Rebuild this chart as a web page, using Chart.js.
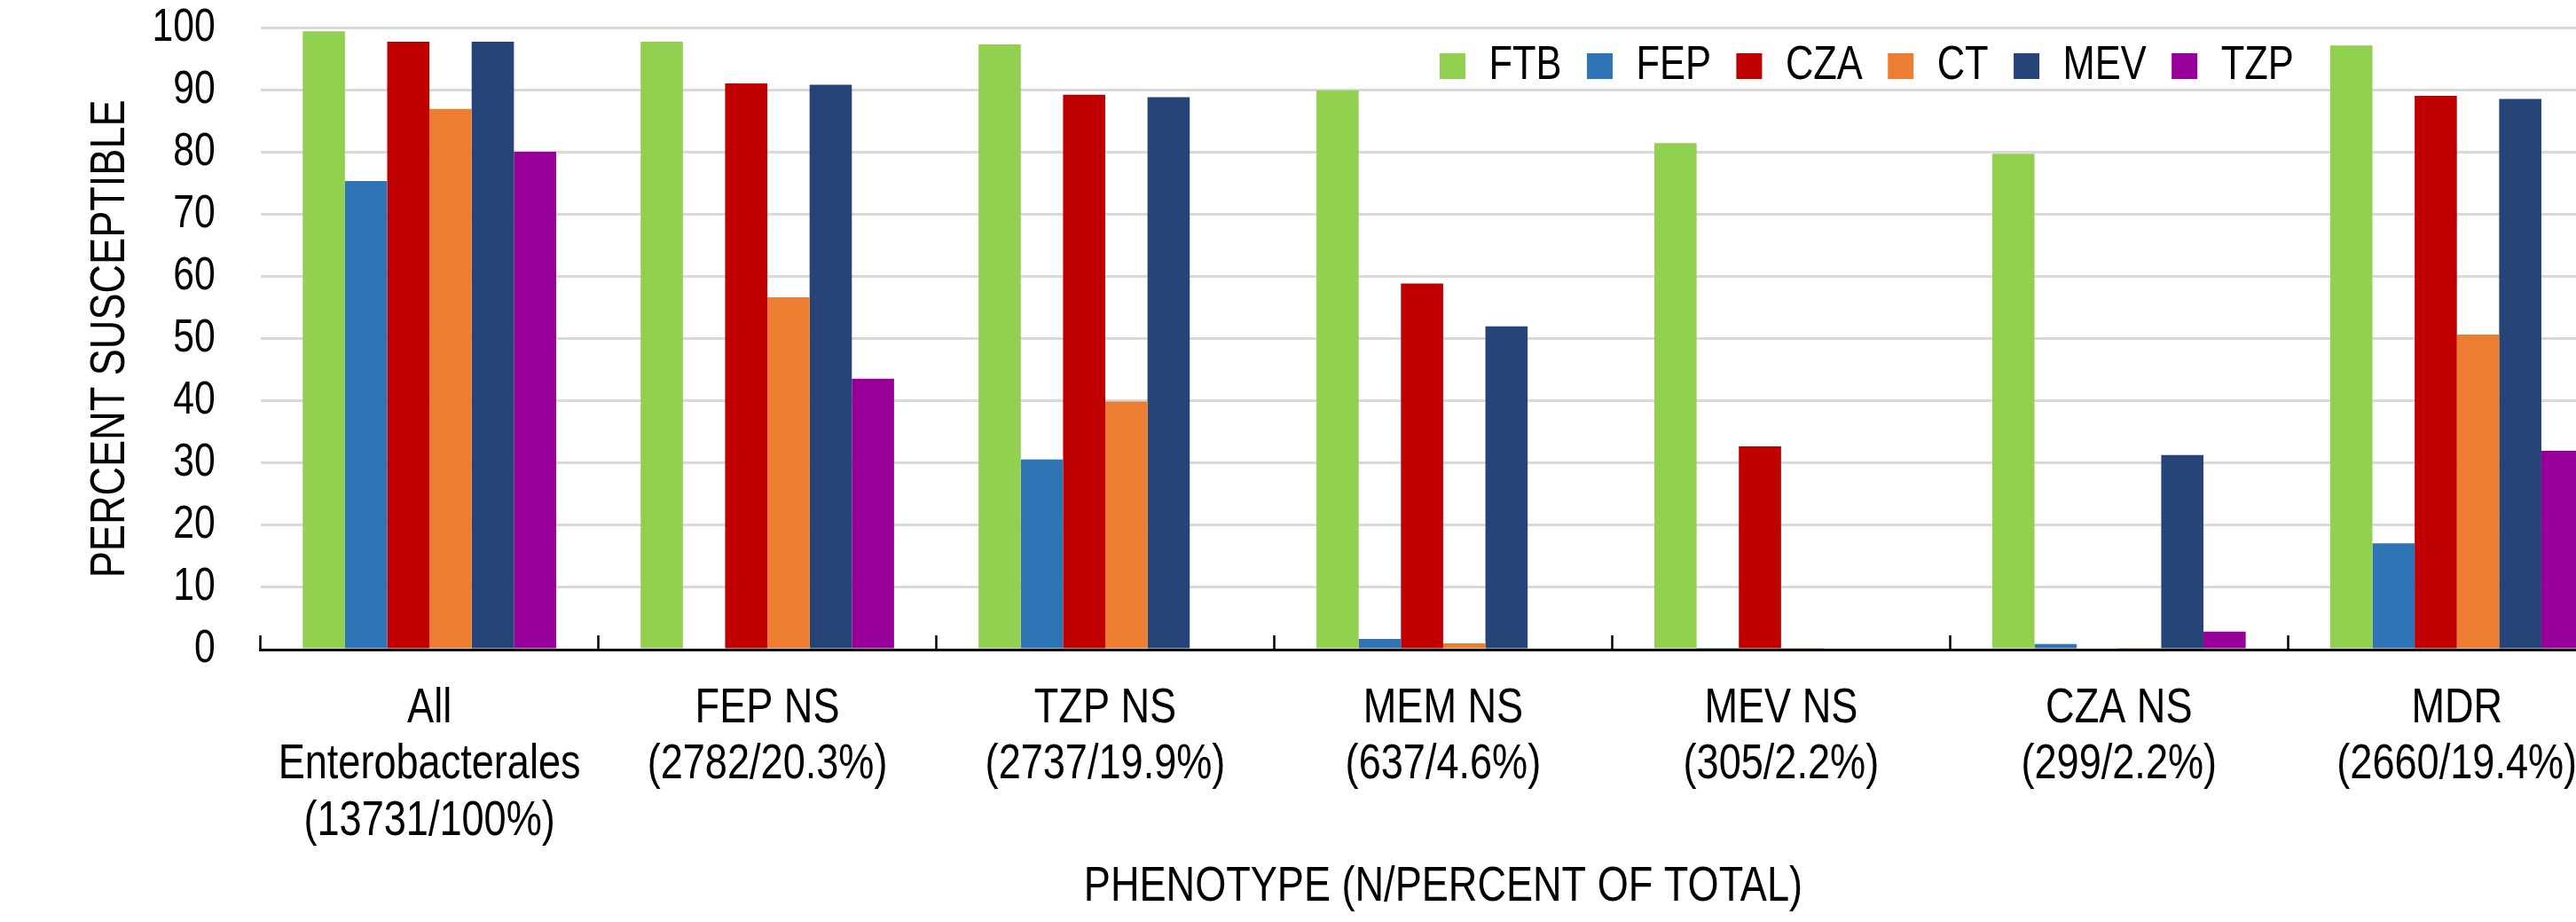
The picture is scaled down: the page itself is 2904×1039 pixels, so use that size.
<!DOCTYPE html>
<html>
<head>
<meta charset="utf-8">
<script src="https://cdn.jsdelivr.net/npm/chart.js@4.4.1/dist/chart.umd.min.js"></script>
<style>
  html, body { margin: 0; padding: 0; background: #ffffff; overflow: hidden; }
  #wrap { position: absolute; left: 0; top: 0; }
  canvas { display: block; }
</style>
</head>
<body>
<div id="wrap"><canvas id="c" width="3000" height="1039"></canvas></div>
<script>
// ---- data ----
const categories = [
  ["All", "Enterobacterales", "(13731/100%)"],
  ["FEP NS", "(2782/20.3%)"],
  ["TZP NS", "(2737/19.9%)"],
  ["MEM NS", "(637/4.6%)"],
  ["MEV NS", "(305/2.2%)"],
  ["CZA NS", "(299/2.2%)"],
  ["MDR", "(2660/19.4%)"]
];
const seriesNames = ["FTB", "FEP", "CZA", "CT", "MEV", "TZP"];
const FTB = [99.5, 97.8, 97.4, 90.0, 81.5, 79.8, 97.2];
const FEP = [75.4, 0, 30.6, 1.7, 0.3, 0.9, 17.1];
const CZA = [97.8, 91.1, 89.3, 58.9, 32.7, 0, 89.1];
const CT  = [87.0, 56.7, 39.9, 1.0, 0.3, 0.3, 50.7];
const MEV = [97.8, 90.9, 88.9, 52.0, 0, 31.3, 88.6];
const TZP = [80.1, 43.6, 0, 0, 0, 2.9, 32.0];
const yTicks = [0, 10, 20, 30, 40, 50, 60, 70, 80, 90, 100];
const yTitle = "PERCENT SUSCEPTIBLE";
const xTitle = "PHENOTYPE (N/PERCENT OF TOTAL)";

const seriesValues = [FTB, FEP, CZA, CT, MEV, TZP];
const seriesColors = ["#92D050", "#2E75B6", "#C00000", "#ED7D31", "#264478", "#990099"];

const FONT = "'Liberation Sans', Arial, sans-serif";
Chart.defaults.font.family = FONT;
Chart.defaults.color = "#000000";

// ---- emulate a narrow (condensed) Arial face: squeeze text along its baseline ----
const NARROW = 0.82;
const canvas = document.getElementById('c');
const ctx2d = canvas.getContext('2d');
const protoFill = CanvasRenderingContext2D.prototype.fillText;
const protoMeasure = CanvasRenderingContext2D.prototype.measureText;
ctx2d.fillText = function (text, x, y, maxWidth) {
  this.save();
  this.translate(x, y);
  this.scale(NARROW, 1);
  if (maxWidth === undefined || maxWidth === null) {
    protoFill.call(this, text, 0, 0);
  } else {
    protoFill.call(this, text, 0, 0, maxWidth / NARROW);
  }
  this.restore();
};
ctx2d.measureText = function (text) {
  const m = protoMeasure.call(this, text);
  return {
    width: m.width * NARROW,
    actualBoundingBoxLeft: m.actualBoundingBoxLeft * NARROW,
    actualBoundingBoxRight: m.actualBoundingBoxRight * NARROW,
    actualBoundingBoxAscent: m.actualBoundingBoxAscent,
    actualBoundingBoxDescent: m.actualBoundingBoxDescent,
    fontBoundingBoxAscent: m.fontBoundingBoxAscent,
    fontBoundingBoxDescent: m.fontBoundingBoxDescent
  };
};

// legend drawn inside the plot area (top right)
const LEGEND_X = 1623;   // left of first legend box
const LEGEND_ROW_Y = 48; // top of legend row
const insideLegend = {
  id: 'insideLegend',
  beforeLayout(chart) {
    const lg = chart.legend;
    if (lg && !lg.__patched) {
      const origFit = lg.fit;
      lg.fit = function () {
        origFit.call(this);
        this.__h = this.height;
        this.height = 0;
      };
      lg.__patched = true;
    }
  },
  afterLayout(chart) {
    const lg = chart.legend;
    if (!lg) return;
    const pad = lg.options.labels.padding;
    lg.height = lg.__h;
    lg.top = LEGEND_ROW_Y - pad;
    lg.bottom = lg.top + lg.__h;
    lg.left = LEGEND_X - pad;
    lg.right = lg.left + (lg.lineWidths ? lg.lineWidths[0] : 1200) + 3 * pad;
    lg.width = lg.right - lg.left;
  }
};

const datasets = seriesNames.map((name, i) => ({
  label: name,
  data: seriesValues[i],
  backgroundColor: seriesColors[i],
  borderWidth: 0,
  barPercentage: 1.0,
  categoryPercentage: 0.75
}));

new Chart(canvas, {
  type: 'bar',
  data: { labels: categories, datasets: datasets },
  plugins: [insideLegend],
  options: {
    responsive: false,
    devicePixelRatio: 1,
    animation: false,
    layout: { autoPadding: false, padding: { left: 0, right: 39.8, top: 31.7, bottom: 0 } },
    plugins: {
      legend: {
        display: true,
        position: 'top',
        align: 'start',
        labels: {
          boxWidth: 29,
          boxHeight: 29,
          padding: 28.4,
          color: '#000000',
          font: { size: 53, family: FONT, lineHeight: 1 }
        }
      },
      title: { display: false },
      tooltip: { enabled: false }
    },
    scales: {
      x: {
        type: 'category',
        offset: true,
        grid: {
          display: true,
          drawOnChartArea: false,
          drawTicks: true,
          tickLength: -16,
          tickColor: '#000000',
          tickWidth: 2.5,
          offset: true
        },
        border: { display: true, color: '#000000', width: 3, z: 1 },
        ticks: {
          autoSkip: false,
          maxRotation: 0,
          minRotation: 0,
          padding: 50.75,
          color: '#000000',
          font: { size: 55, family: FONT, lineHeight: 1.158 }
        },
        title: {
          display: true,
          text: xTitle,
          color: '#000000',
          font: { size: 55, family: FONT, lineHeight: 1 },
          padding: { top: 0, bottom: 11.2 }
        },
        afterFit(scale) {
          scale.height = 307;
          scale.paddingLeft = 0; scale.paddingRight = 0;
          scale.paddingTop = 0; scale.paddingBottom = 0;
        }
      },
      y: {
        type: 'linear',
        min: 0,
        max: 100,
        afterBuildTicks(scale) { scale.ticks = yTicks.map(v => ({ value: v })); },
        grid: {
          display: true,
          drawTicks: false,
          color: '#D9D9D9',
          lineWidth: 3
        },
        border: { display: false },
        ticks: {
          padding: 51,
          color: '#000000',
          font: { size: 52, family: FONT, lineHeight: 1 }
        },
        title: {
          display: true,
          text: yTitle,
          color: '#000000',
          font: { size: 55, family: FONT, lineHeight: 1 },
          padding: { top: 97.8, bottom: 10 }
        },
        afterFit(scale) {
          scale.width = 293.66;
          scale.paddingTop = 0; scale.paddingBottom = 0;
          scale.paddingLeft = 0; scale.paddingRight = 0;
        }
      }
    }
  }
});
</script>
</body>
</html>
